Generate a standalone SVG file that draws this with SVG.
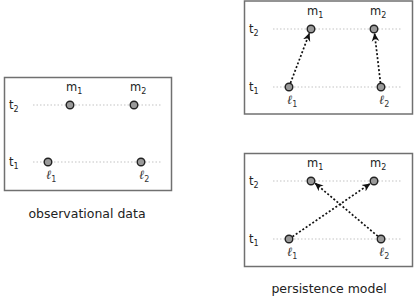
<svg xmlns="http://www.w3.org/2000/svg" width="415" height="307" viewBox="0 0 415 307">
<defs>
<style>
.box{fill:#fff;stroke:#707070;stroke-width:1.5}
.guide{stroke:#b4b4b4;stroke-width:0.8;stroke-dasharray:1.5 2}
.node{fill:#9a9a9a;stroke:#222;stroke-width:1.4}
.lbl{font-family:"DejaVu Sans",sans-serif;font-size:11.5px;fill:#222}
.ell{font-family:"Liberation Serif",serif;font-style:italic;font-size:12.5px;fill:#333}
.sub{font-family:"DejaVu Sans",sans-serif;font-size:8px;font-style:normal}
.cap{font-family:"DejaVu Sans",sans-serif;font-size:12.5px;fill:#222;text-anchor:middle}
.arr{stroke:#111;stroke-width:1.7;stroke-dasharray:2 2;fill:none;marker-end:url(#ah)}
</style>
<marker id="ah" viewBox="0 0 10 10" refX="9" refY="5" markerWidth="5" markerHeight="5" orient="auto" markerUnits="strokeWidth">
<path d="M0,0.5 L10,5 L0,9.5 L3,5 Z" fill="#111"/>
</marker>
</defs>

<g id="panel-observational">
<rect class="box" x="4.5" y="77.5" width="167" height="113"/>
<line class="guide" x1="33" y1="105" x2="161" y2="105"/>
<line class="guide" x1="33" y1="162" x2="161" y2="162"/>
<text class="lbl" x="9" y="109">t<tspan class="sub" dy="2.5">2</tspan></text>
<text class="lbl" x="9" y="166">t<tspan class="sub" dy="2.5">1</tspan></text>
<text class="cap" x="87" y="218">observational data</text>
</g>
<g id="obs-m1"><circle class="node" cx="70" cy="105" r="3.8"/><text class="lbl" x="66" y="91">m<tspan class="sub" dy="2.5">1</tspan></text></g>
<g id="obs-m2"><circle class="node" cx="134" cy="105" r="3.8"/><text class="lbl" x="130" y="91">m<tspan class="sub" dy="2.5">2</tspan></text></g>
<g id="obs-l1"><circle class="node" cx="48" cy="162" r="3.8"/><text class="ell" x="46" y="179">ℓ<tspan class="sub" dy="2.5">1</tspan></text></g>
<g id="obs-l2"><circle class="node" cx="141" cy="162" r="3.8"/><text class="ell" x="139" y="179">ℓ<tspan class="sub" dy="2.5">2</tspan></text></g>

<g id="panel-top">
<rect class="box" x="244.5" y="1" width="168" height="113"/>
<line class="guide" x1="273" y1="29" x2="402" y2="29"/>
<line class="guide" x1="273" y1="87" x2="402" y2="87"/>
<text class="lbl" x="249" y="33">t<tspan class="sub" dy="2.5">2</tspan></text>
<text class="lbl" x="249" y="91">t<tspan class="sub" dy="2.5">1</tspan></text>
</g>
<g id="top-m1"><circle class="node" cx="311" cy="29" r="3.8"/><text class="lbl" x="307" y="15">m<tspan class="sub" dy="2.5">1</tspan></text></g>
<g id="top-m2"><circle class="node" cx="374" cy="29" r="3.8"/><text class="lbl" x="370" y="15">m<tspan class="sub" dy="2.5">2</tspan></text></g>
<g id="top-l1"><circle class="node" cx="289" cy="87" r="3.8"/><text class="ell" x="287" y="104">ℓ<tspan class="sub" dy="2.5">1</tspan></text></g>
<g id="top-l2"><circle class="node" cx="381" cy="87" r="3.8"/><text class="ell" x="379" y="104">ℓ<tspan class="sub" dy="2.5">2</tspan></text></g>

<g id="panel-bottom">
<rect class="box" x="244.5" y="153.5" width="168" height="113"/>
<line class="guide" x1="273" y1="181" x2="402" y2="181"/>
<line class="guide" x1="273" y1="239" x2="402" y2="239"/>
<text class="lbl" x="249" y="185">t<tspan class="sub" dy="2.5">2</tspan></text>
<text class="lbl" x="249" y="243">t<tspan class="sub" dy="2.5">1</tspan></text>
<text class="cap" x="329" y="293">persistence model</text>
</g>
<g id="bot-m1"><circle class="node" cx="311" cy="181" r="3.8"/><text class="lbl" x="307" y="167">m<tspan class="sub" dy="2.5">1</tspan></text></g>
<g id="bot-m2"><circle class="node" cx="374" cy="181" r="3.8"/><text class="lbl" x="370" y="167">m<tspan class="sub" dy="2.5">2</tspan></text></g>
<g id="bot-l1"><circle class="node" cx="289" cy="239" r="3.8"/><text class="ell" x="287" y="256">ℓ<tspan class="sub" dy="2.5">1</tspan></text></g>
<g id="bot-l2"><circle class="node" cx="381" cy="239" r="3.8"/><text class="ell" x="379" y="256">ℓ<tspan class="sub" dy="2.5">2</tspan></text></g>

<g id="connectors">
<line class="arr" x1="290.5" y1="83" x2="309.3" y2="33.5"/>
<line class="arr" x1="380.5" y1="83" x2="374.6" y2="33.8"/>
<line class="arr" x1="292.5" y1="236.6" x2="369.8" y2="183.9"/>
<line class="arr" x1="377.8" y1="236.2" x2="315.3" y2="183.4"/>
</g>
</svg>
